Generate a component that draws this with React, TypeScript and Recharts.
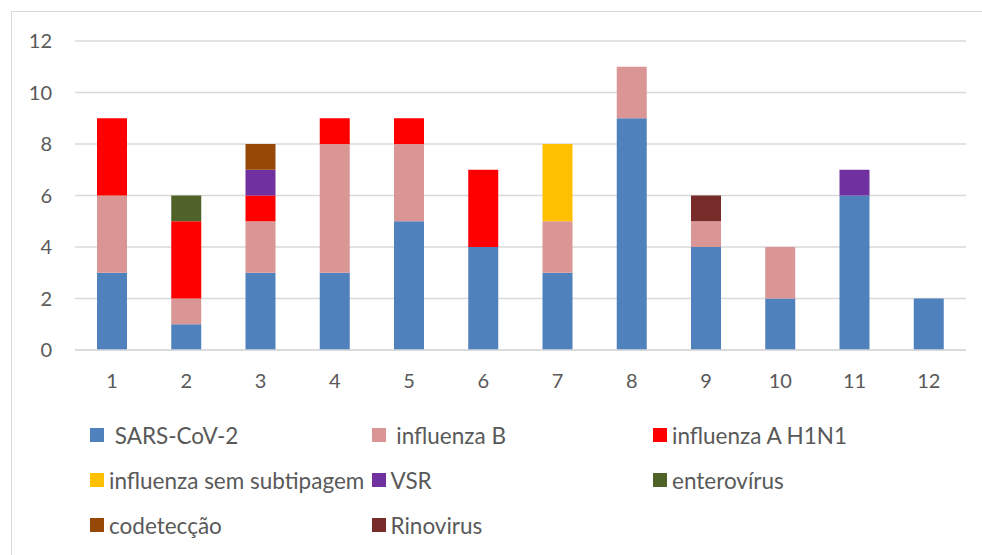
import { BarChart, Bar, XAxis, YAxis, CartesianGrid } from 'recharts';

const categories = ['1', '2', '3', '4', '5', '6', '7', '8', '9', '10', '11', '12'];

const sarsCov2 = [3, 1, 3, 3, 5, 4, 3, 9, 4, 2, 6, 2];
const influenzaB = [3, 1, 2, 5, 3, 0, 2, 2, 1, 2, 0, 0];
const influenzaAH1N1 = [3, 3, 1, 1, 1, 3, 0, 0, 0, 0, 0, 0];
const semSubtipagem = [0, 0, 0, 0, 0, 0, 3, 0, 0, 0, 0, 0];
const vsr = [0, 0, 1, 0, 0, 0, 0, 0, 0, 0, 1, 0];
const enterovirus = [0, 1, 0, 0, 0, 0, 0, 0, 0, 0, 0, 0];
const codeteccao = [0, 0, 1, 0, 0, 0, 0, 0, 0, 0, 0, 0];
const rinovirus = [0, 0, 0, 0, 0, 0, 0, 0, 1, 0, 0, 0];

const yTicks = [0, 2, 4, 6, 8, 10, 12];

const SERIES = [
    { key: 'sars', name: ' SARS-CoV-2', values: sarsCov2, color: '#4F81BD' },
    { key: 'infB', name: ' influenza B', values: influenzaB, color: '#DA9694' },
    { key: 'h1n1', name: 'influenza A H1N1', values: influenzaAH1N1, color: '#FF0000' },
    { key: 'semSub', name: 'influenza sem subtipagem', values: semSubtipagem, color: '#FFC000' },
    { key: 'vsr', name: 'VSR', values: vsr, color: '#7030A0' },
    { key: 'entero', name: 'enterovírus', values: enterovirus, color: '#4F6228' },
    { key: 'codet', name: 'codetecção', values: codeteccao, color: '#974706' },
    { key: 'rino', name: 'Rinovirus', values: rinovirus, color: '#772C2A' },
];

const FONT = 'Lato, "Open Sans", sans-serif';
const TEXT = '#595959';

const data = categories.map((c, i) => {
    const row: Record<string, string | number> = { name: c };
    SERIES.forEach((s) => {
        row[s.key] = s.values[i];
    });
    return row;
});

function ChartLegend() {
    return (
        <div style={{ position: 'absolute', left: 90, top: 423, width: 880, fontFamily: FONT, fontSize: 22.5, color: TEXT }}>
            {SERIES.map((s, i) => (
                <div
                    key={s.key}
                    style={{
                        position: 'absolute',
                        left: (i % 3) * 281.5,
                        top: Math.floor(i / 3) * 45,
                        display: 'flex',
                        alignItems: 'center',
                        height: 24,
                        whiteSpace: 'pre',
                    }}
                >
                    <span style={{ width: 14, height: 14, background: s.color, marginRight: 5, display: 'inline-block' }} />
                    <span>{s.name}</span>
                </div>
            ))}
        </div>
    );
}

export default function App() {
    return (
        <div style={{ position: 'fixed', left: 0, top: 0, width: 982, height: 555, overflow: 'hidden', background: '#fff' }}>
            <div
                style={{
                    position: 'absolute',
                    left: 11,
                    top: 11,
                    width: 1100,
                    height: 700,
                    borderLeft: '1px solid #D9D9D9',
                    borderTop: '1px solid #D9D9D9',
                }}
            />
            <BarChart
                width={982}
                height={555}
                data={data}
                margin={{ top: 41, right: 16, bottom: 175, left: 15 }}
                style={{ position: 'absolute', left: 0, top: 0 }}
            >
                <CartesianGrid vertical={false} stroke="#D9D9D9" strokeWidth={1.3} />
                <XAxis
                    dataKey="name"
                    height={30}
                    axisLine={{ stroke: '#D9D9D9', strokeWidth: 1.3 }}
                    tickLine={false}
                    tickSize={0}
                    tickMargin={24}
                    tick={{ fill: TEXT, fontSize: 20, fontFamily: FONT }}
                />
                <YAxis
                    width={60}
                    domain={[0, 12]}
                    ticks={yTicks}
                    axisLine={false}
                    tickLine={false}
                    tickSize={0}
                    tickMargin={23}
                    tick={{ fill: TEXT, fontSize: 20, fontFamily: FONT }}
                />
                {SERIES.map((s) => (
                    <Bar
                        key={s.key}
                        dataKey={s.key}
                        name={s.name}
                        stackId="a"
                        fill={s.color}
                        barSize={30}
                        isAnimationActive={false}
                    />
                ))}
            </BarChart>
            <ChartLegend />
        </div>
    );
}
